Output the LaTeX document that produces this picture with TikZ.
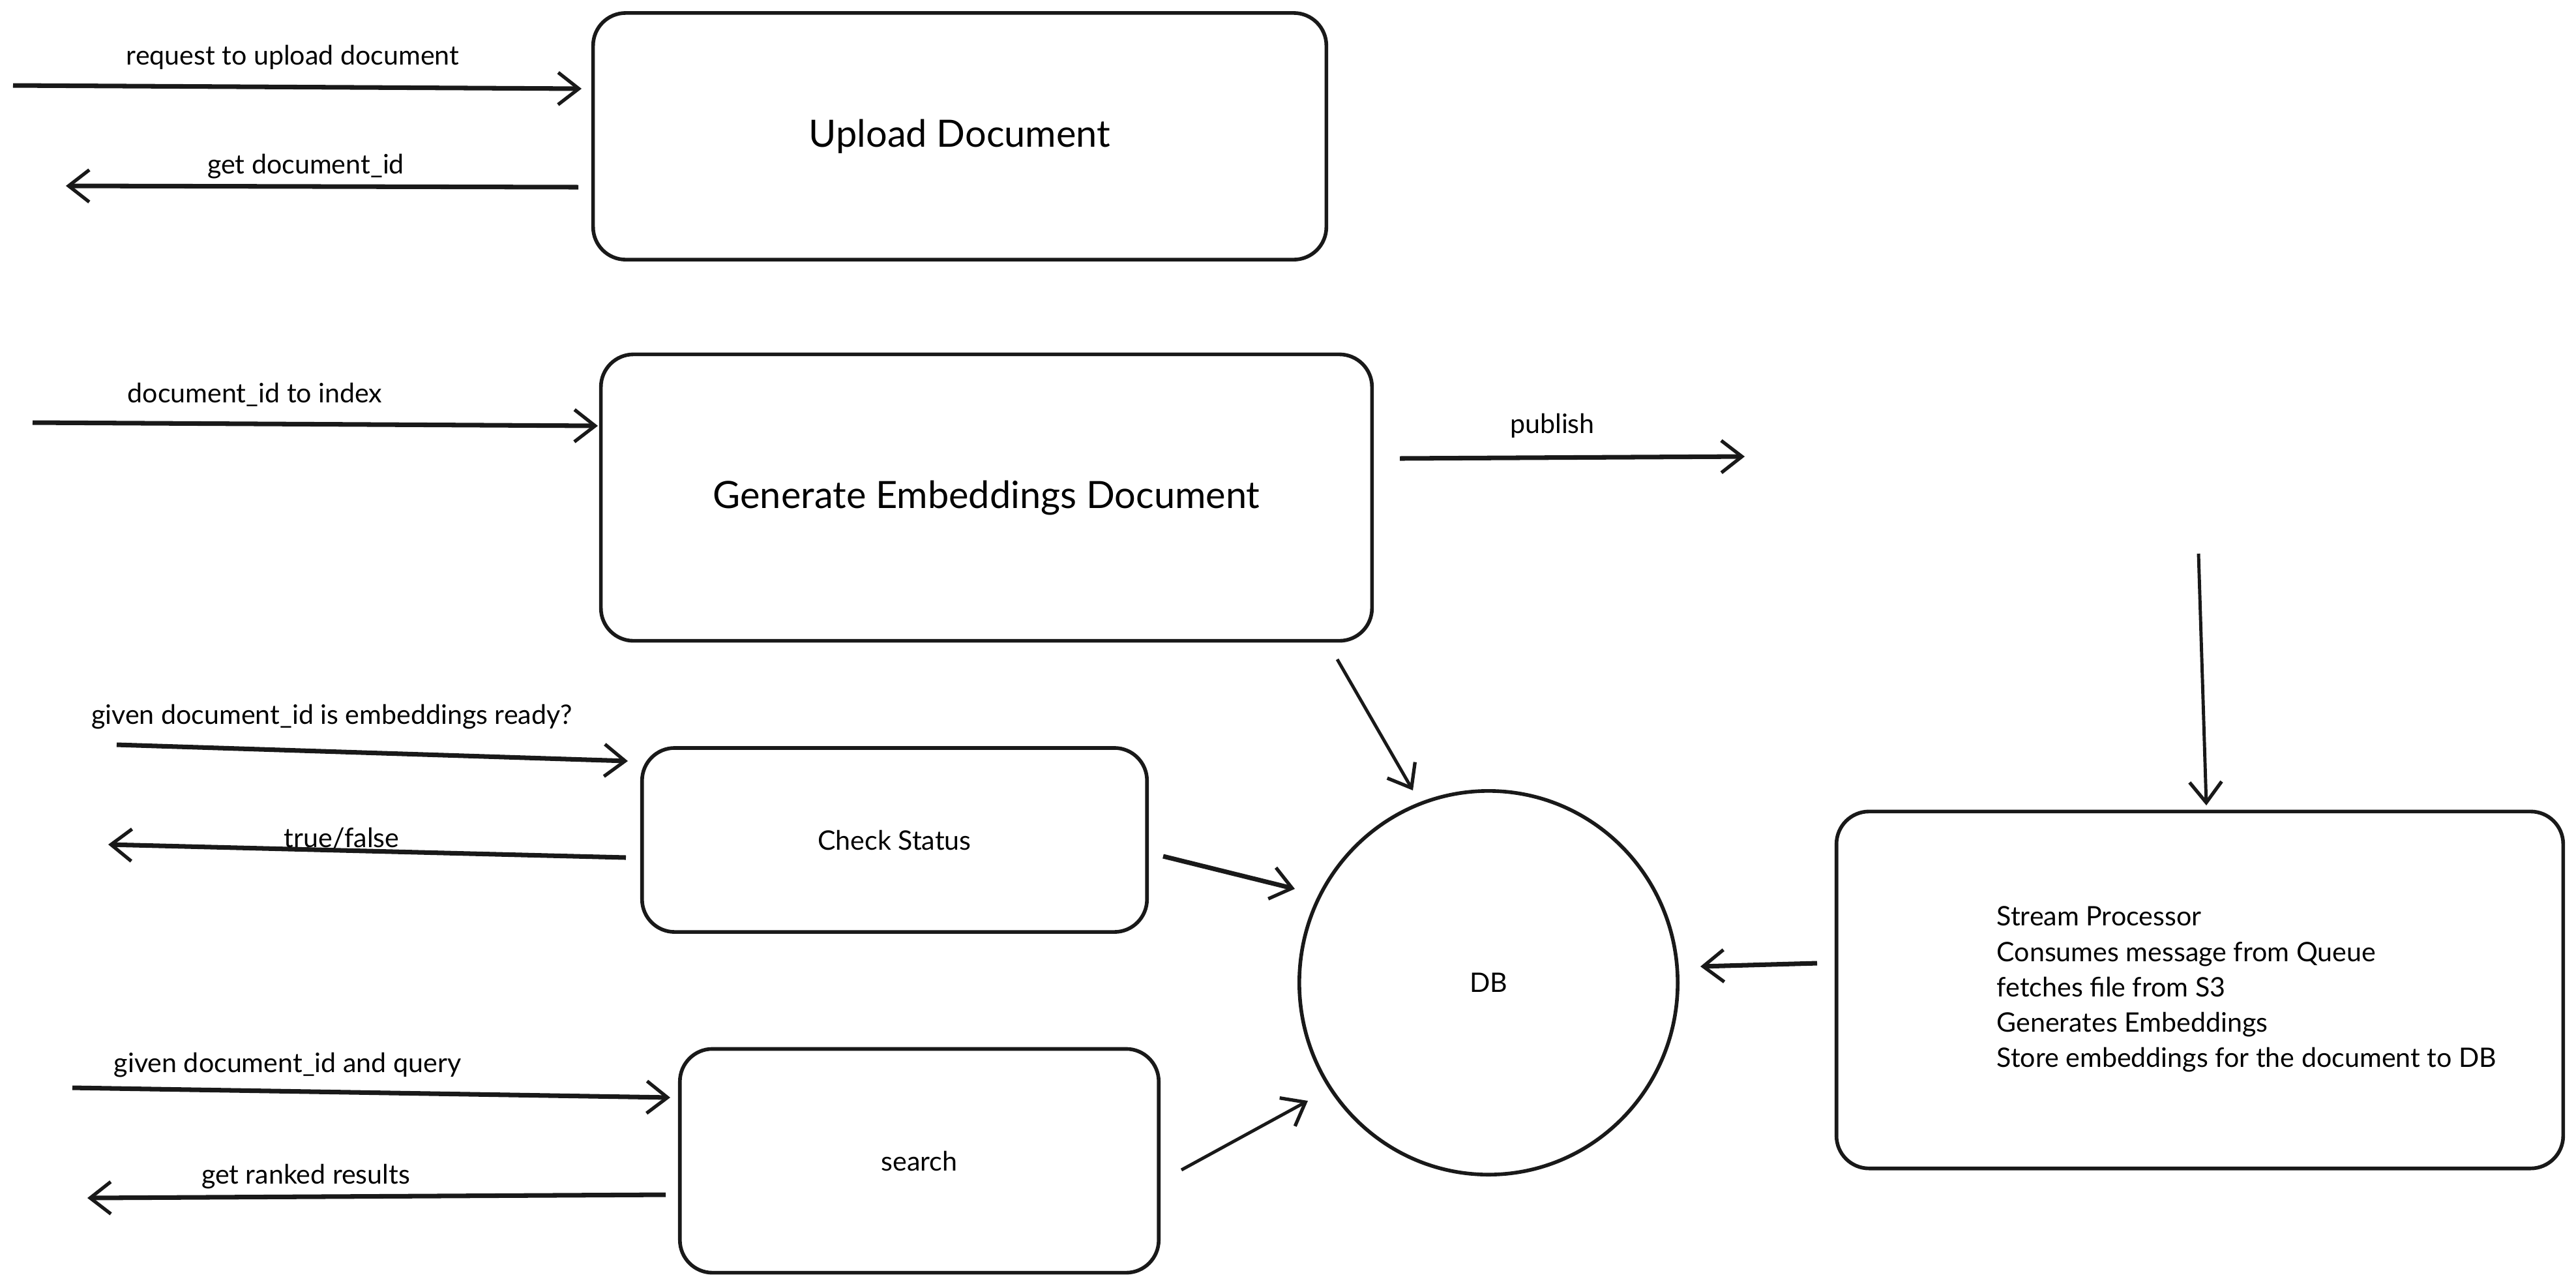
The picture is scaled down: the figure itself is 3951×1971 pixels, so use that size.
\documentclass[tikz,border=0pt]{standalone}
\usepackage{fontspec}
\setmainfont{Lato}
\usetikzlibrary{arrows.meta,shapes.geometric}
\begin{document}
\begin{tikzpicture}[x=0.01cm,y=-0.01cm,
  box/.style={draw=black!90,line width=1.6pt,rounded corners=0.5cm,inner sep=0pt},
  arr/.style={draw=black!90,line width=2pt,-{Straight Barb[length=9pt,width=14pt,line width=1.5pt]}},
  thinarr/.style={arr,line width=1.4pt},
  lbl/.style={font=\fontsize{11.7}{14}\selectfont,inner sep=0pt},
  title/.style={font=\fontsize{16.4}{19}\selectfont}]
\useasboundingbox (0,0) rectangle (3951,1971);
% boxes
\node[box,minimum width=11.24cm,minimum height=3.78cm,title] (up) at (1472,209) {Upload Document};
\node[box,minimum width=11.82cm,minimum height=4.39cm,title] (gen) at (1513,763) {Generate Embeddings Document};
\node[box,minimum width=7.74cm,minimum height=2.82cm,lbl] (chk) at (1372,1288) {Check Status};
\node[box,minimum width=7.34cm,minimum height=3.43cm,lbl] (srch) at (1410,1780) {search};
\node[draw=black!90,line width=1.6pt,ellipse,minimum width=5.8cm,minimum height=5.88cm,lbl] (db) at (2283,1507) {DB};
\node[box,minimum width=11.14cm,minimum height=5.47cm] (sp) at (3374,1518) {};
\node[lbl,anchor=west,align=left,font=\fontsize{11.7}{15.4}\selectfont] (sptxt) at (3062,1517)
  {Stream Processor\\Consumes message from Queue\\fetches file from S3\\Generates Embeddings\\Store embeddings for the document to DB};
% coordinates
\coordinate (a1s) at (20,131);   \coordinate (a1e) at (892,136);
\coordinate (a2s) at (887,287);  \coordinate (a2e) at (101,285);
\coordinate (a3s) at (50,648);   \coordinate (a3e) at (917,653);
\coordinate (pbs) at (2147,703); \coordinate (pbe) at (2676,700);
\coordinate (vs) at (3372,849);  \coordinate (ve) at (3384,1235);
\coordinate (gds) at (2051,1011);\coordinate (gde) at (2167,1212);
\coordinate (cds) at (1784,1313);\coordinate (cde) at (1986,1363);
\coordinate (b1s) at (179,1142); \coordinate (b1e) at (963,1167);
\coordinate (b2s) at (960,1315); \coordinate (b2e) at (166,1295);
\coordinate (c1s) at (111,1668); \coordinate (c1e) at (1028,1683);
\coordinate (c2s) at (1021,1832);\coordinate (c2e) at (134,1837);
\coordinate (sds) at (1812,1794);\coordinate (sde) at (2006,1688);
\coordinate (pds) at (2787,1477);\coordinate (pde) at (2608,1482);
% arrows
\draw[arr] (a1s) -- (a1e);
\draw[arr] (a2s) -- (a2e);
\draw[arr] (a3s) -- (a3e);
\draw[arr] (pbs) -- (pbe);
\draw[thinarr] (vs) -- (ve);
\draw[thinarr] (gds) -- (gde);
\draw[arr] (cds) -- (cde);
\draw[arr] (b1s) -- (b1e);
\draw[arr] (b2s) -- (b2e);
\draw[arr] (c1s) -- (c1e);
\draw[arr] (c2s) -- (c2e);
\draw[thinarr] (sds) -- (sde);
\draw[arr] (pds) -- (pde);
% labels
\node[lbl] (l1) at (449,88) {request to upload document};
\node[lbl] (l2) at (469,255) {get document\_id};
\node[lbl] (l3) at (391,605) {document\_id to index};
\node[lbl] (l4) at (2381,653) {publish};
\node[lbl] (l5) at (509,1099) {given document\_id is embeddings ready?};
\node[lbl] (l6) at (524,1285) {true/false};
\node[lbl] (l7) at (441,1633) {given document\_id and query};
\node[lbl] (l8) at (469,1804) {get ranked results};
\end{tikzpicture}
\end{document}
